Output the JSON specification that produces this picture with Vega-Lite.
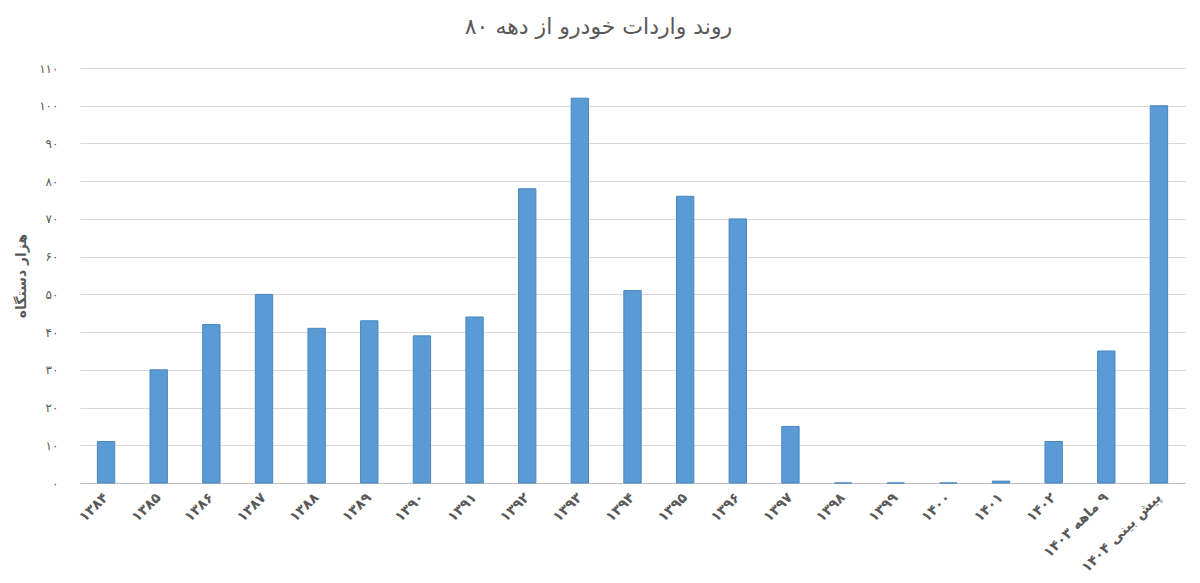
{
  "$schema": "https://vega.github.io/schema/vega-lite/v6.json",
  "width": 1105,
  "height": 415,
  "autosize": {"type": "none"},
  "padding": {"left": 80, "top": 68, "right": 15, "bottom": 100},
  "background": "white",
  "title": {
    "text": "روند واردات خودرو از دهه ۸۰",
    "fontSize": 22,
    "font": "DejaVu Sans",
    "color": "#595959",
    "fontWeight": "normal",
    "anchor": "middle",
    "frame": "group",
    "dx": -34,
    "offset": 23
  },
  "data": {
    "values": [
      {"year": "۱۳۸۴", "value": 11},
      {"year": "۱۳۸۵", "value": 30},
      {"year": "۱۳۸۶", "value": 42},
      {"year": "۱۳۸۷", "value": 50},
      {"year": "۱۳۸۸", "value": 41},
      {"year": "۱۳۸۹", "value": 43},
      {"year": "۱۳۹۰", "value": 39},
      {"year": "۱۳۹۱", "value": 44},
      {"year": "۱۳۹۲", "value": 78},
      {"year": "۱۳۹۳", "value": 102},
      {"year": "۱۳۹۴", "value": 51},
      {"year": "۱۳۹۵", "value": 76},
      {"year": "۱۳۹۶", "value": 70},
      {"year": "۱۳۹۷", "value": 15},
      {"year": "۱۳۹۸", "value": 0},
      {"year": "۱۳۹۹", "value": 0},
      {"year": "۱۴۰۰", "value": 0},
      {"year": "۱۴۰۱", "value": 0.5},
      {"year": "۱۴۰۲", "value": 11},
      {"year": "۱۴۰۳ ماهه \u200e۹", "value": 35},
      {"year": "۱۴۰۴ پیش بینی", "value": 100}
    ]
  },
  "mark": {"type": "bar", "color": "#5b9bd5", "stroke": "#4a86c0", "strokeWidth": 1},
  "encoding": {
    "x": {
      "field": "year",
      "type": "nominal",
      "sort": null,
      "scale": {"paddingInner": 0.67, "paddingOuter": 0.33},
      "axis": {
        "title": null,
        "labelAngle": -45,
        "labelAlign": "right",
        "labelBaseline": "middle",
        "labelFont": "DejaVu Sans",
        "labelFontSize": 14,
        "labelFontWeight": "bold",
        "labelColor": "#595959",
        "labelPadding": 12,
        "ticks": false,
        "grid": false,
        "domainColor": "#bfbfbf",
        "labelOverlap": false
      }
    },
    "y": {
      "field": "value",
      "type": "quantitative",
      "scale": {"domain": [0, 110], "nice": false},
      "axis": {
        "title": "هزار دستگاه",
        "titleFont": "DejaVu Sans",
        "titleFontSize": 14,
        "titleFontWeight": "bold",
        "titleColor": "#595959",
        "titlePadding": 10,
        "values": [0, 10, 20, 30, 40, 50, 60, 70, 80, 90, 100, 110],
        "labelExpr": "replace(replace(replace(replace(replace(replace(replace(replace(replace(replace(datum.label, regexp('0','g'), '۰'), regexp('1','g'), '۱'), regexp('2','g'), '۲'), regexp('3','g'), '۳'), regexp('4','g'), '۴'), regexp('5','g'), '۵'), regexp('6','g'), '۶'), regexp('7','g'), '۷'), regexp('8','g'), '۸'), regexp('9','g'), '۹')",
        "labelFont": "DejaVu Sans",
        "labelFontSize": 12,
        "labelColor": "#595959",
        "labelPadding": 22,
        "ticks": false,
        "domain": false,
        "gridColor": "#d9d9d9"
      }
    }
  },
  "config": {"view": {"stroke": null}}
}
